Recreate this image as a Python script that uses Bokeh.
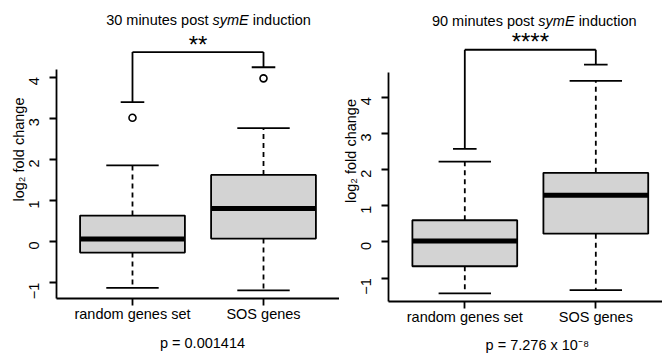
import math
from bokeh.plotting import figure
from bokeh.layouts import row, column
from bokeh.models import FixedTicker, Range1d
from bokeh.core.properties import value
from bokeh.embed import file_html
from bokeh.resources import INLINE

# ---------------- data ----------------
categories = ["random genes set", "SOS genes"]
y_ticks = [-1, 0, 1, 2, 3, 4]
y_tick_labels = ["\u22121", "0", "1", "2", "3", "4"]

# 30 minutes post symE induction
q1_30 = [-0.27, 0.07]
median_30 = [0.06, 0.80]
q3_30 = [0.63, 1.62]
whisker_low_30 = [-1.13, -1.19]
whisker_high_30 = [1.85, 2.76]
outlier_group_30 = [0, 1]
outlier_value_30 = [3.01, 3.97]
bracket_ends_30 = [3.39, 4.24]
bracket_top_30 = 4.61
stars_30 = "**"
pvalue_30 = "p = 0.001414"
title_30 = ["30 minutes post", "symE", "induction"]

# 90 minutes post symE induction
q1_90 = [-0.67, 0.23]
median_90 = [0.03, 1.29]
q3_90 = [0.60, 1.91]
whisker_low_90 = [-1.42, -1.33]
whisker_high_90 = [2.22, 4.45]
outlier_group_90 = []
outlier_value_90 = []
bracket_ends_90 = [2.57, 4.90]
bracket_top_90 = 5.31
stars_90 = "****"
pvalue_90 = "p = 7.276 x 10\u207b\u2078"
title_90 = ["90 minutes post", "symE", "induction"]

FONT = "Liberation Sans"
FS = 14.5
FSZ = "14.5px"
LW = 1.8
MAIN_H = 330
P_H = 28


def text_width(s):
    # approximate Arial/Liberation Sans advance widths (per 1000 em)
    w = {' ': 278, 'm': 833, 'i': 222, 'n': 556, 'u': 556, 't': 278, 'e': 556,
         's': 500, 'p': 556, 'o': 556, 'y': 500, 'E': 667, 'd': 556, 'c': 500}
    return sum(w.get(ch, 556) for ch in s) / 1000.0 * FS


def panel(width, border_left, border_bottom, x_range, y_range, axis_top, q1, med, q3, wlo, whi,
          og, ov, bends, btop, stars, title_parts, title_y, title_shift):
    fig = figure(width=width, height=MAIN_H, x_range=x_range, y_range=y_range,
                 output_backend="svg", toolbar_location=None,
                 min_border_left=border_left, min_border_right=0,
                 min_border_top=0, min_border_bottom=border_bottom)
    fig.outline_line_color = None
    fig.grid.visible = False
    fig.background_fill_color = "white"
    fig.border_fill_color = "white"

    xs = [i + 1 for i in range(len(categories))]
    half = 0.4
    staple = 0.2
    cap = 0.09

    # whiskers
    fig.segment(x0=xs, y0=q3, x1=xs, y1=whi, line_color="black", line_width=LW, line_dash="5 4")
    fig.segment(x0=xs, y0=q1, x1=xs, y1=wlo, line_color="black", line_width=LW, line_dash="5 4")
    fig.segment(x0=[x - staple for x in xs], y0=whi, x1=[x + staple for x in xs], y1=whi,
                line_color="black", line_width=LW)
    fig.segment(x0=[x - staple for x in xs], y0=wlo, x1=[x + staple for x in xs], y1=wlo,
                line_color="black", line_width=LW)
    # boxes
    fig.quad(left=[x - half for x in xs], right=[x + half for x in xs], bottom=q1, top=q3,
             fill_color="#d3d3d3", line_color="black", line_width=LW)
    fig.segment(x0=[x - half for x in xs], y0=med, x1=[x + half for x in xs], y1=med,
                line_color="black", line_width=5)
    # outliers
    if ov:
        fig.scatter(x=[xs[g] for g in og], y=ov, marker="circle", size=7,
                    fill_color=None, line_color="black", line_width=1.6)
    # significance bracket
    fig.segment(x0=xs, y0=bends, x1=xs, y1=[btop, btop], line_color="black", line_width=LW)
    fig.segment(x0=[xs[0]], y0=[btop], x1=[xs[1]], y1=[btop], line_color="black", line_width=LW)
    fig.segment(x0=[x - cap for x in xs], y0=bends, x1=[x + cap for x in xs], y1=bends,
                line_color="black", line_width=LW)
    mid = (xs[0] + xs[1]) / 2
    fig.text(x=[mid], y=[btop], text=[stars], y_offset=-8, text_font=value(FONT),
             text_font_size="24px", text_align="center", text_baseline="alphabetic",
             text_color="black")

    # title with italic gene name
    w1 = text_width(title_parts[0])
    w2 = text_width(title_parts[1])
    w3 = text_width(title_parts[2])
    sp = text_width(" ")
    total = w1 + sp + w2 + sp + w3
    left = title_shift - total / 2
    fig.text(x=[mid], y=[title_y], text=[title_parts[0]], x_offset=left,
             text_font=value(FONT), text_font_size=FSZ, text_align="left",
             text_baseline="alphabetic", text_color="black")
    fig.text(x=[mid], y=[title_y], text=[title_parts[1]], x_offset=left + w1 + sp,
             text_font=value(FONT), text_font_size=FSZ, text_font_style="italic",
             text_align="left", text_baseline="alphabetic", text_color="black")
    fig.text(x=[mid], y=[title_y], text=[title_parts[2]], x_offset=left + w1 + sp + w2 + sp,
             text_font=value(FONT), text_font_size=FSZ, text_align="left",
             text_baseline="alphabetic", text_color="black")

    # axes
    xa = fig.xaxis[0]
    xa.ticker = FixedTicker(ticks=xs)
    xa.major_label_overrides = {x: c for x, c in zip(xs, categories)}
    ya = fig.yaxis[0]
    ya.ticker = FixedTicker(ticks=y_ticks)
    ya.major_label_overrides = {t: l for t, l in zip(y_ticks, y_tick_labels)}
    ya.bounds = (y_range.start, axis_top)
    ya.major_label_orientation = math.pi / 2
    ya.axis_label = "log\u2082 fold change"
    ya.axis_label_standoff = -5
    ya.axis_label_text_font_style = "normal"
    for ax in (xa, ya):
        ax.axis_line_width = LW
        ax.axis_line_color = "black"
        ax.major_tick_line_width = LW
        ax.major_tick_line_color = "black"
        ax.major_tick_out = 7
        ax.major_tick_in = 0
        ax.minor_tick_line_color = None
        ax.major_label_text_font = FONT
        ax.major_label_text_font_size = FSZ
        ax.major_label_text_color = "black"
        ax.axis_label_text_font = FONT
        ax.axis_label_text_font_size = FSZ
        ax.axis_label_text_color = "black"
    xa.major_label_standoff = 0
    ya.major_label_standoff = 15
    return fig


def pvalue_fig(width, border_left, x_range, text, shift, lift):
    pf = figure(width=width, height=P_H, x_range=x_range, y_range=Range1d(-1, 1),
                output_backend="svg", toolbar_location=None,
                min_border_left=border_left, min_border_right=0,
                min_border_top=0, min_border_bottom=0)
    pf.axis.visible = False
    pf.grid.visible = False
    pf.outline_line_color = None
    pf.background_fill_color = "white"
    pf.border_fill_color = "white"
    pf.text(x=[1.5], y=[0], text=[text], x_offset=shift, y_offset=-lift,
            text_font=value(FONT), text_font_size=FSZ, text_align="center",
            text_baseline="middle", text_color="black")
    return pf


xr30 = Range1d(0.42, 2.58)
xr90 = Range1d(0.4176, 2.509)

left_fig = panel(339, 56, 32, xr30, Range1d(-1.387, 5.864), 4.18,
                 q1_30, median_30, q3_30, whisker_low_30, whisker_high_30,
                 outlier_group_30, outlier_value_30, bracket_ends_30, bracket_top_30,
                 stars_30, title_30, 5.40, 10.5)
right_fig = panel(323, 49, 29, xr90, Range1d(-1.644, 6.671), 4.69,
                  q1_90, median_90, q3_90, whisker_low_90, whisker_high_90,
                  outlier_group_90, outlier_value_90, bracket_ends_90, bracket_top_90,
                  stars_90, title_90, 6.10, 4)

left_p = pvalue_fig(339, 56, xr30, pvalue_30, 4.5, 2)
right_p = pvalue_fig(323, 49, xr90, pvalue_90, 7, 0)

layout = row(column(left_fig, left_p), column(right_fig, right_p))
open("out.html", "w").write(file_html(layout, INLINE))
